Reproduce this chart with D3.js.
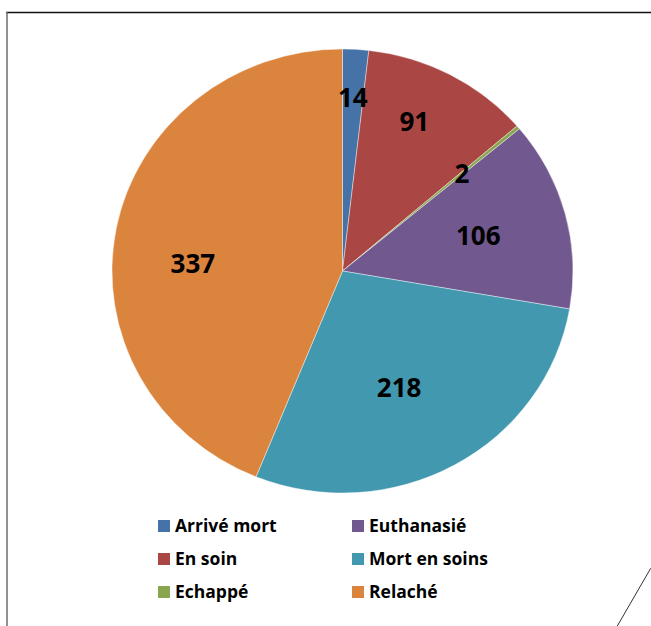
<!DOCTYPE html>
<html><head><meta charset="utf-8">
<script src="https://cdn.jsdelivr.net/npm/d3@7"></script>
<style>html,body{margin:0;padding:0;background:#fff;}svg{display:block;}</style>
</head><body>
<svg id="chart" width="651" height="626"></svg>
<script>
const categories = ["Arrivé mort", "En soin", "Echappé", "Euthanasié", "Mort en soins", "Relaché"];
const values = [14, 91, 2, 106, 218, 337];
const colors = ["#4572A7", "#AA4643", "#89A54E", "#71588F", "#4198AF", "#DB843D"];
// label layout: [radius fraction, angle adjustment in degrees]
const labelLayout = [[0.78, 0], [0.74, -3], [0.68, 0], [0.61, 0], [0.58, 4], [0.65, -8]];

const svg = d3.select("#chart");
const W = 651, H = 626;
const FONT = "'Open Sans', Lato, sans-serif";

// frame
svg.append("line").attr("x1", 6).attr("y1", 12.5).attr("x2", W).attr("y2", 12.5)
  .attr("stroke", "#111").attr("stroke-width", 1.5);
svg.append("line").attr("x1", 7).attr("y1", 12).attr("x2", 7).attr("y2", H)
  .attr("stroke", "#6d6d6d").attr("stroke-width", 1.5);
svg.append("line").attr("x1", 650.7).attr("y1", 568.3).attr("x2", 617.3).attr("y2", 626)
  .attr("stroke", "#333").attr("stroke-width", 1);

const cx = 342.5, cy = 271, rx = 230.5, ry = 222;
const R = rx;
const pie = d3.pie().value(d => d).sort(null);
const arcs = pie(values);
const arc = d3.arc().innerRadius(0).outerRadius(R);

const g = svg.append("g").attr("transform", `translate(${cx},${cy}) scale(1,${ry / rx})`);
g.selectAll("path").data(arcs).enter().append("path")
  .attr("d", arc)
  .attr("fill", (d, i) => colors[i])
  .attr("stroke", "#ffffff").attr("stroke-width", 0.6).attr("stroke-opacity", 0.7);

const lg = svg.append("g");
arcs.forEach((d, i) => {
  const [frac, adj] = labelLayout[i];
  const a = (d.startAngle + d.endAngle) / 2 + adj * Math.PI / 180;
  const x = cx + frac * rx * Math.sin(a);
  const y = cy - frac * ry * Math.cos(a);
  lg.append("text").attr("x", x).attr("y", y).attr("dy", "0.36em")
    .attr("text-anchor", "middle")
    .attr("font-family", FONT).attr("font-weight", "bold")
    .attr("font-size", 26).attr("fill", "#000").text(values[i]);
});

// legend
const legend = svg.append("g");
const colX = [158, 352], rowY = [526, 559, 592];
categories.forEach((c, i) => {
  const col = Math.floor(i / 3), row = i % 3;
  const item = legend.append("g").attr("transform", `translate(${colX[col]},${rowY[row]})`);
  item.append("rect").attr("x", 0).attr("y", -6).attr("width", 12).attr("height", 12).attr("fill", colors[i]);
  item.append("text").attr("x", 17).attr("y", 0).attr("dy", "0.36em")
    .attr("font-family", FONT).attr("font-weight", "bold")
    .attr("font-size", 17.5).attr("fill", "#000").text(c);
});
</script>
</body></html>
